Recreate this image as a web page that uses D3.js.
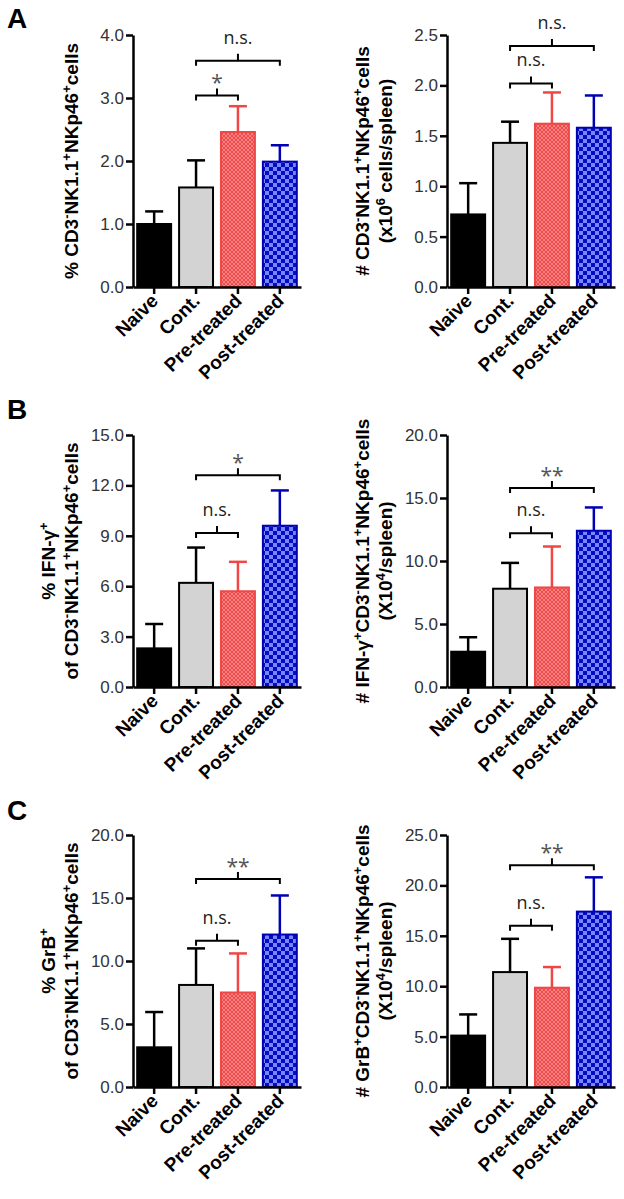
<!DOCTYPE html>
<html>
<head>
<meta charset="utf-8">
<script src="https://cdn.jsdelivr.net/npm/d3@7/dist/d3.min.js"></script>
<style type="text/css">
    body { margin: 0; background: #fff; }
    svg { display: block; }

    .axis path,
    .axis line {
        fill: none;
        stroke: #000;
        stroke-width: 2.5px; }

    .axis text {
        font-family: "Liberation Sans", Arial, sans-serif;
        font-size: 17px;
        fill: #333; }

    .xaxis text {
        font-weight: bold;
        font-size: 19px;
        fill: #000; }

    text.title {
        font-family: "Liberation Sans", Arial, sans-serif;
        font-weight: bold;
        font-size: 19px;
        text-anchor: middle; }

    text.sig {
        font-family: "Open Sans", sans-serif;
        font-size: 18px;
        text-anchor: middle;
        fill: #222; }

    text.star {
        font-family: "Open Sans", sans-serif;
        font-size: 21px;
        text-anchor: middle;
        fill: #555; }

    text.letter {
        font-family: "Liberation Sans", Arial, sans-serif;
        font-weight: bold;
        font-size: 28px; }
</style>
</head>
<body>
<div id="chart"></div>

<script type="text/javascript">
    var groups = ["Naive", "Cont.", "Pre-treated", "Post-treated"];
    var colors = ["#000", "#000", "#f04646", "#0000b4"];
    var fills = ["#000", "#d3d3d3", "url(#redCheck)", "url(#blueCheck)"];

    // A: NK cells
    var nkPctMean = [1.0, 1.58, 2.46, 1.99];
    var nkPctErr = [0.2, 0.43, 0.41, 0.26];
    var nkPctTicks = [0, 1, 2, 3, 4];

    var nkNumMean = [0.72, 1.43, 1.62, 1.58];
    var nkNumErr = [0.31, 0.21, 0.31, 0.32];
    var nkNumTicks = [0, 0.5, 1, 1.5, 2, 2.5];

    // B: IFN-g
    var ifnPctMean = [2.3, 6.2, 5.7, 9.6];
    var ifnPctErr = [1.45, 2.1, 1.75, 2.1];
    var ifnPctTicks = [0, 3, 6, 9, 12, 15];

    var ifnNumMean = [2.8, 7.8, 7.9, 12.4];
    var ifnNumErr = [1.15, 2.05, 3.25, 1.85];
    var ifnNumTicks = [0, 5, 10, 15, 20];

    // C: GrB
    var grbPctMean = [3.15, 8.1, 7.5, 12.1];
    var grbPctErr = [2.8, 2.9, 3.1, 3.1];
    var grbPctTicks = [0, 5, 10, 15, 20];

    var grbNumMean = [5.1, 11.4, 9.85, 17.4];
    var grbNumErr = [2.1, 3.3, 2.05, 3.4];
    var grbNumTicks = [0, 5, 10, 15, 20, 25];

    // brackets: [from, to, level, label]
    var nkPctSig = [[1, 3, 3.59, "n.s."], [1, 2, 3.04, "*"]];
    var nkNumSig = [[1, 3, 2.39, "n.s."], [1, 2, 2.02, "n.s."]];
    var ifnPctSig = [[1, 3, 12.6, "*"], [1, 2, 9.17, "n.s."]];
    var ifnNumSig = [[1, 3, 15.8, "**"], [1, 2, 12.2, "n.s."]];
    var grbPctSig = [[1, 3, 16.5, "**"], [1, 2, 11.6, "n.s."]];
    var grbNumSig = [[1, 3, 22.0, "**"], [1, 2, 16.0, "n.s."]];

    var panels = [
        { row: 0, left: 133, letter: "A", mean: nkPctMean, err: nkPctErr, ticks: nkPctTicks, sig: nkPctSig,
          title: ["% CD3^-NK1.1^+NKp46^+cells"] },
        { row: 0, left: 447, mean: nkNumMean, err: nkNumErr, ticks: nkNumTicks, sig: nkNumSig,
          title: ["# CD3^-NK1.1^+NKp46^+cells", "(x10^6 cells/spleen)"] },
        { row: 1, left: 133, letter: "B", mean: ifnPctMean, err: ifnPctErr, ticks: ifnPctTicks, sig: ifnPctSig,
          title: ["% IFN-γ^+", "of CD3^-NK1.1^+NKp46^+cells"] },
        { row: 1, left: 447, mean: ifnNumMean, err: ifnNumErr, ticks: ifnNumTicks, sig: ifnNumSig,
          title: ["# IFN-γ^+CD3^-NK1.1^+NKp46^+cells", "(X10^4/spleen)"] },
        { row: 2, left: 133, letter: "C", mean: grbPctMean, err: grbPctErr, ticks: grbPctTicks, sig: grbPctSig,
          title: ["% GrB^+", "of CD3^-NK1.1^+NKp46^+cells"] },
        { row: 2, left: 447, mean: grbNumMean, err: grbNumErr, ticks: grbNumTicks, sig: grbNumSig,
          title: ["# GrB^+CD3^-NK1.1^+NKp46^+cells", "(X10^4/spleen)"] }
    ];
    var letterY = [28, 419, 820];

    var width = 624, height = 1199;
    var plotH = 252, plotTop = 35, rowH = 400;

    var svg = d3.select("#chart").append("svg")
        .attr("width", width)
        .attr("height", height);

    var defs = svg.append("defs");

    var red = defs.append("pattern").attr("id", "redCheck")
        .attr("patternUnits", "userSpaceOnUse").attr("width", 4).attr("height", 4);
    red.append("rect").attr("width", 4).attr("height", 4).attr("fill", "#ee4a4a");
    red.append("rect").attr("width", 2).attr("height", 2).attr("fill", "#f58383");
    red.append("rect").attr("x", 2).attr("y", 2).attr("width", 2).attr("height", 2).attr("fill", "#f58383");

    var blue = defs.append("pattern").attr("id", "blueCheck")
        .attr("patternUnits", "userSpaceOnUse").attr("width", 8).attr("height", 8);
    blue.append("rect").attr("width", 8).attr("height", 8).attr("fill", "#0a0ac0");
    blue.append("rect").attr("width", 4).attr("height", 4).attr("fill", "#7388ff");
    blue.append("rect").attr("x", 4).attr("y", 4).attr("width", 4).attr("height", 4).attr("fill", "#7388ff");

    [0, 1, 2].forEach(function (r) {
        defs.append("clipPath").attr("id", "clip" + r)
            .append("rect")
            .attr("x", 0).attr("y", r * rowH + 19)
            .attr("width", width).attr("height", rowH - 19);
    });

    // text with ^x superscripts
    function richText(sel, str) {
        str.split(/(\^.)/).forEach(function (p) {
            if (!p) return;
            if (p[0] === "^") {
                sel.append("tspan").attr("baseline-shift", "super")
                    .style("font-size", "13px").text(p[1]);
            } else {
                sel.append("tspan").text(p);
            }
        });
    }

    panels.forEach(function (p) {
        var top = p.row * rowH + plotTop;
        var g = svg.append("g")
            .attr("transform", "translate(" + p.left + "," + top + ")");

        var x = d3.scaleBand()
            .domain(groups)
            .range([0, 168])
            .paddingInner(0.19)
            .paddingOuter(0.1);

        var y = d3.scaleLinear()
            .domain([0, p.ticks[p.ticks.length - 1]])
            .range([plotH, 0]);

        var rows = groups.map(function (d, i) {
            return { name: d, mean: p.mean[i], err: p.err[i], i: i };
        });

        // bars
        g.selectAll("rect.bar")
            .data(rows)
            .enter().append("rect")
            .attr("class", "bar")
            .attr("x", function (d) { return x(d.name); })
            .attr("y", function (d) { return y(d.mean); })
            .attr("width", x.bandwidth())
            .attr("height", function (d) { return plotH - y(d.mean); })
            .attr("fill", function (d) { return fills[d.i]; })
            .attr("stroke", function (d) { return colors[d.i]; })
            .attr("stroke-width", 2);

        // error bars (upper only)
        var eb = g.selectAll("g.err")
            .data(rows)
            .enter().append("g")
            .attr("class", "err")
            .attr("stroke", function (d) { return colors[d.i]; })
            .attr("stroke-width", 2.5);
        eb.append("line")
            .attr("x1", function (d) { return x(d.name) + x.bandwidth() / 2; })
            .attr("x2", function (d) { return x(d.name) + x.bandwidth() / 2; })
            .attr("y1", function (d) { return y(d.mean); })
            .attr("y2", function (d) { return y(d.mean + d.err); });
        eb.append("line")
            .attr("x1", function (d) { return x(d.name) + x.bandwidth() / 2 - 9; })
            .attr("x2", function (d) { return x(d.name) + x.bandwidth() / 2 + 9; })
            .attr("y1", function (d) { return y(d.mean + d.err); })
            .attr("y2", function (d) { return y(d.mean + d.err); });

        // axes
        var yAxis = d3.axisLeft(y)
            .tickValues(p.ticks)
            .tickFormat(d3.format(".1f"))
            .tickSize(7)
            .tickSizeOuter(0)
            .tickPadding(2);
        g.append("g").attr("class", "axis").call(yAxis);

        var xAxis = d3.axisBottom(x)
            .tickSize(7)
            .tickSizeOuter(0);
        var xg = g.append("g")
            .attr("class", "axis xaxis")
            .attr("transform", "translate(0," + plotH + ")")
            .call(xAxis);
        xg.selectAll("text")
            .attr("y", 0)
            .attr("dy", 0)
            .attr("transform", "translate(5,15) rotate(-45)")
            .style("text-anchor", "end");

        // significance brackets
        p.sig.forEach(function (s) {
            var x1 = x(groups[s[0]]) + x.bandwidth() / 2;
            var x2 = x(groups[s[1]]) + x.bandwidth() / 2;
            var yy = y(s[2]);
            var xm = (x1 + x2) / 2;
            g.append("path")
                .attr("d", "M" + x1 + "," + (yy + 5) + "V" + yy + "H" + x2 + "V" + (yy + 5)
                    + "M" + xm + "," + yy + "V" + (yy - 7))
                .attr("fill", "none")
                .attr("stroke", "#000")
                .attr("stroke-width", 2);
            var star = s[3].indexOf("*") === 0;
            g.append("text")
                .attr("class", star ? "star" : "sig")
                .attr("x", xm)
                .attr("y", star ? yy - 5 : yy - 17)
                .text(s[3]);
        });

        // y title
        var tg = svg.append("g")
            .attr("clip-path", "url(#clip" + p.row + ")")
            .append("g")
            .attr("transform", "translate(" + p.left + "," + top + ")");
        var baseX = p.title.length === 1 ? [-55] : [-78, -55];
        p.title.forEach(function (line, k) {
            var t = tg.append("text")
                .attr("class", "title")
                .attr("transform", "rotate(-90)")
                .attr("x", -plotH / 2)
                .attr("y", baseX[k]);
            richText(t, line);
        });

        if (p.letter) {
            svg.append("text")
                .attr("class", "letter")
                .attr("x", 7)
                .attr("y", letterY[p.row])
                .text(p.letter);
        }
    });
</script>
</body>
</html>
